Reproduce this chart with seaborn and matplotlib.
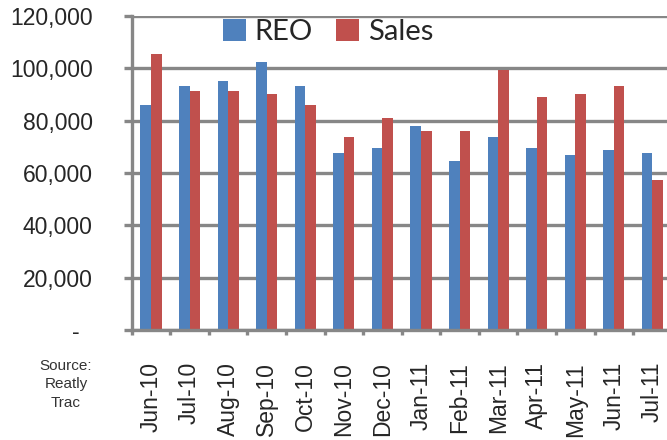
import matplotlib
matplotlib.use("Agg")
import matplotlib.pyplot as plt
from matplotlib.patches import Patch
from matplotlib.ticker import FixedLocator, FuncFormatter
import seaborn as sns
import pandas as pd

months = ["Jun-10", "Jul-10", "Aug-10", "Sep-10", "Oct-10", "Nov-10", "Dec-10",
          "Jan-11", "Feb-11", "Mar-11", "Apr-11", "May-11", "Jun-11", "Jul-11"]
reo = [86000, 93200, 95300, 102400, 93200, 67600, 69700,
       77900, 64700, 73800, 69700, 66700, 68700, 67700]
sales = [105500, 91200, 91200, 90200, 86000, 73800, 81000,
         75900, 75900, 99200, 89100, 90200, 93200, 57400]
series = ["REO", "Sales"]
colors = ["#4F81BD", "#C0504D"]
yticks = [0, 20000, 40000, 60000, 80000, 100000, 120000]

df = pd.DataFrame({
    "month": months * 2,
    "series": [series[0]] * len(months) + [series[1]] * len(months),
    "value": reo + sales,
})

sns.set_style("white")
plt.rcParams["font.family"] = ["Liberation Sans", "DejaVu Sans"]

W, H = 667, 440
fig = plt.figure(figsize=(W / 100, H / 100), dpi=100)
# plot area runs past the right edge, so the last group is clipped
ax = fig.add_axes([131.7 / W, 110 / H, 540 / W, 314 / H])

grid_c = "#878787"
sns.barplot(data=df, x="month", y="value", hue="series", order=months,
            hue_order=series, palette=colors, width=0.55, gap=0,
            saturation=1, linewidth=0, ax=ax, legend=False, zorder=3)

ax.set_xlim(-0.5, len(months) - 0.5)
ax.set_ylim(0, 120000)
ax.set_yticks(yticks)
ax.yaxis.set_major_formatter(FuncFormatter(
    lambda v, p: "-  " if v == 0 else f"{int(v):,}"))
ax.grid(axis="y", color=grid_c, linewidth=2.4, zorder=0)
ax.set_axisbelow(True)

for s in ["top", "right"]:
    ax.spines[s].set_visible(False)
for s in ["left", "bottom"]:
    ax.spines[s].set_color(grid_c)
    ax.spines[s].set_linewidth(2.4)
    ax.spines[s].set_zorder(4)

ax.tick_params(axis="y", which="major", length=6, width=2.4, color=grid_c,
               direction="out", pad=22, labelsize=16.5, left=True)
ax.tick_params(axis="x", which="major", length=0, pad=23, labelsize=16.5,
               labelrotation=90)
ax.xaxis.set_minor_locator(FixedLocator([i - 0.5 for i in range(len(months) + 1)]))
ax.tick_params(axis="x", which="minor", length=3.5, width=2.4, color=grid_c,
               direction="out", bottom=True)
ax.set_xlabel("")
ax.set_ylabel("")

handles = [Patch(facecolor=c, edgecolor="none", label=s)
           for c, s in zip(colors, series)]
fig.legend(handles=handles, loc="upper left",
           bbox_to_anchor=(223 / W, 1 - 19 / H), ncol=2, frameon=False,
           prop={"family": ["Lato", "DejaVu Sans"], "size": 21},
           handlelength=0.78, handleheight=0.78, handletextpad=0.3,
           columnspacing=0.8, borderpad=0, borderaxespad=0)

fig.text(66 / W, 1 - 359 / H, "Source:\nReatly\nTrac", ha="center", va="top",
         fontsize=11, color="#333333", linespacing=1.4)

fig.savefig("out.png", dpi=100)
